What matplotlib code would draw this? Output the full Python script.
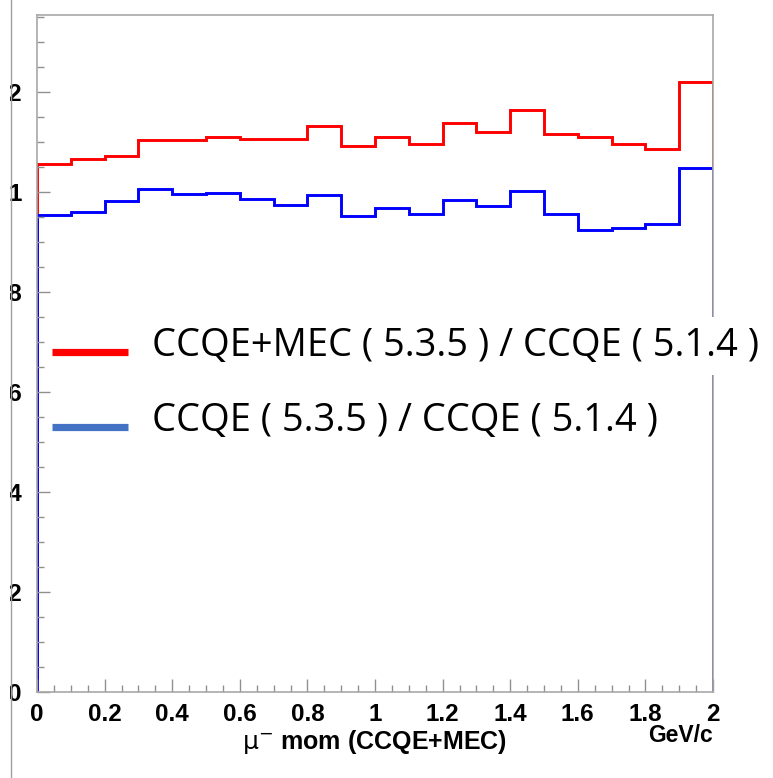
import matplotlib
matplotlib.use('Agg')
import matplotlib.pyplot as plt
from matplotlib.lines import Line2D
from matplotlib.patches import Rectangle
from matplotlib.ticker import MultipleLocator, FuncFormatter
import numpy as np

plt.rcParams.update({
    'font.family': ['Liberation Sans', 'DejaVu Sans'],
    'mathtext.fontset': 'dejavusans',
})

# Muon momentum bins (GeV/c) and ratio contents
bin_edges = np.round(np.arange(0, 2.01, 0.1), 2)
ratio_mec = [1.056, 1.066, 1.072, 1.104, 1.104, 1.110, 1.106, 1.106, 1.132, 1.092,
             1.110, 1.096, 1.138, 1.120, 1.164, 1.116, 1.110, 1.096, 1.086, 1.220]
ratio_qe = [0.954, 0.960, 0.982, 1.006, 0.996, 0.998, 0.986, 0.974, 0.994, 0.952,
            0.968, 0.956, 0.984, 0.972, 1.002, 0.956, 0.924, 0.928, 0.936, 1.048]
legend_labels = ['CCQE+MEC ( 5.3.5 ) / CCQE ( 5.1.4 )',
                 'CCQE ( 5.3.5 ) / CCQE ( 5.1.4 )']

W, H = 773, 778
fig = plt.figure(figsize=(W / 100, H / 100), dpi=100)
ax = fig.add_axes([37 / W, (H - 692) / H, (713 - 37) / W, (692 - 15) / H])

ax.stairs(ratio_mec, bin_edges, baseline=0, color='#ff0000', linewidth=2.1)
ax.stairs(ratio_qe, bin_edges, baseline=0, color='#0000ff', linewidth=2.1)

ax.set_xlim(0, 2)
ax.set_ylim(0, 1.354)

for s in ax.spines.values():
    s.set_color('#a8a8a8')
    s.set_linewidth(1.2)

ax.xaxis.set_major_locator(MultipleLocator(0.2))
ax.xaxis.set_minor_locator(MultipleLocator(0.05))
ax.yaxis.set_major_locator(MultipleLocator(0.2))
ax.yaxis.set_minor_locator(MultipleLocator(0.05))

fmt = FuncFormatter(lambda v, p: '%g' % round(v, 2))
ax.xaxis.set_major_formatter(fmt)
ax.yaxis.set_major_formatter(fmt)

ax.tick_params(which='both', direction='in', color='#909090', width=1.0,
               top=False, right=False)
ax.tick_params(which='major', length=9.5, labelsize=17.5)
ax.tick_params(which='minor', length=5)
ax.tick_params(axis='x', pad=8)
ax.tick_params(axis='y', pad=11)
for lab in ax.get_xticklabels() + ax.get_yticklabels():
    lab.set_fontweight('bold')

fig.text(507 / W, 1 - 742 / H, r'$\mathrm{\mu}^{-}$ mom (CCQE+MEC)', ha='right',
         va='center', fontsize=18, fontweight='bold')
fig.text(713 / W, 1 - 735 / H, 'GeV/c', ha='right', va='center',
         fontsize=16.5, fontweight='bold')

# the pasted plot starts at its left frame edge; blank everything beyond it
fig.add_artist(Rectangle((0, 0), 10 / W, 1, transform=fig.transFigure,
                         facecolor='white', edgecolor='none', zorder=10))
fig.add_artist(Line2D([11 / W, 11 / W], [0, 1], color='#a0a0a0', linewidth=1.0,
                      zorder=11))

# hand-drawn legend
leg_y = [352, 427]
leg_colors = ['#ff0000', '#4472c4']
for y, c, lab in zip(leg_y, leg_colors, legend_labels):
    fig.add_artist(Line2D([52 / W, 128 / W], [1 - y / H, 1 - y / H], color=c,
                          linewidth=5.2, solid_capstyle='butt'))
    fig.text(152 / W, 1 - (y - 6) / H, lab, ha='left', va='center',
             fontsize=27.4, family=['Open Sans', 'DejaVu Sans'],
             bbox=dict(facecolor='white', edgecolor='none', pad=7))

fig.savefig('out.png', dpi=100)
